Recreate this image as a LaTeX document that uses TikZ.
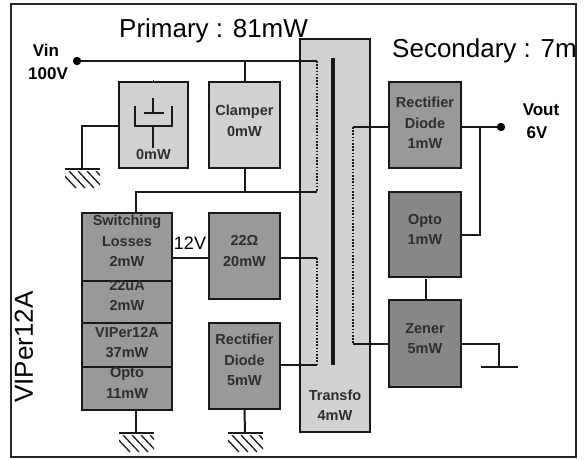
\documentclass[tikz,border=0pt]{standalone}
\usepackage{fontspec}
\setmainfont{Liberation Sans}
\begin{document}
\begin{tikzpicture}[x=1pt,y=-1pt,
  wire/.style={line width=2pt,black!90},
  boxbase/.style={draw=black!90,line width=2.2pt,inner sep=0pt},
  lightbox/.style={boxbase,fill=black!18},
  hatchbox/.style={boxbase,fill=black!40},
  darkbox/.style={boxbase,fill=black!47},
  btxt/.style={font=\bfseries\fontsize{14.5}{20.5}\selectfont,text=black!82,align=center,inner sep=0pt},
  lbl/.style={font=\bfseries\fontsize{17}{24}\selectfont,align=center,inner sep=0pt},
  big/.style={font=\fontsize{26}{30}\selectfont,inner sep=0pt},
  coil/.style={line width=2.8pt,dash pattern=on 1.6pt off 1.6pt,black!90},
  gndline/.style={line width=2pt,black!90},
  hatchl/.style={line width=1.3pt,black!90}
]
\useasboundingbox (0,0) rectangle (584,460);
\fill[white] (0,0) rectangle (584,460);
% outer frame
\draw[line width=1.5pt,black!85] (11,4) rectangle (576,457);

% titles
\node[big,anchor=base west] (prim) at (119,38) {Primary : 81mW};
\begin{scope}
\clip (0,0) rectangle (575,460);
\node[big,anchor=base west] (sec) at (392,58) {Secondary : 7mW};
\end{scope}
\node[big,rotate=90] (vip) at (24,347) {VIPer12A};

% transformer box
\node[lightbox,minimum width=70pt,minimum height=393pt] (tr) at (335,235.5) {};
\node[btxt] (trt) at (335,405) {Transfo\\4mW};

% left boxes
\node[lightbox,minimum width=69pt,minimum height=86pt] (cap) at (153.5,125) {};
\node[btxt] (capt) at (153.5,155) {0mW};
\node[lightbox,minimum width=71pt,minimum height=86pt] (clp) at (244.5,125) {};
\node[btxt] at ([yshift=4pt]clp.center) {Clamper\\0mW};

\node[hatchbox,minimum width=90pt,minimum height=68pt] (s1) at (127,247) {};
\node[hatchbox,minimum width=90pt,minimum height=42pt] (s2) at (127,302) {};
\node[hatchbox,minimum width=90pt,minimum height=44pt] (s3) at (127,345) {};
\node[hatchbox,minimum width=90pt,minimum height=43pt] (s4) at (127,388.5) {};
\node[btxt] at ([yshift=6pt]s1.center) {Switching\\Losses\\2mW};
\node[btxt] at ([yshift=6.5pt]s2.center) {22uA\\2mW};
\node[btxt] at ([yshift=2.5pt]s3.center) {VIPer12A\\37mW};
\node[btxt] at ([yshift=5.5pt]s4.center) {Opto\\11mW};

\node[hatchbox,minimum width=71pt,minimum height=86pt] (r22) at (244.5,256) {};
\node[btxt] at ([yshift=5pt]r22.center) {22Ω\\20mW};
\node[hatchbox,minimum width=71pt,minimum height=86pt] (rd5) at (244.5,366) {};
\node[btxt] at ([yshift=6pt]rd5.center) {Rectifier\\Diode\\5mW};

% right boxes
\node[hatchbox,minimum width=72pt,minimum height=86pt] (rd1) at (425,125) {};
\node[btxt] at ([yshift=2pt]rd1.center) {Rectifier\\Diode\\1mW};
\node[darkbox,minimum width=72pt,minimum height=85pt] (opto) at (425,234.5) {};
\node[btxt] at ([yshift=5pt]opto.center) {Opto\\1mW};
\node[darkbox,minimum width=72pt,minimum height=87pt] (zen) at (425,343.5) {};
\node[btxt] at ([yshift=5pt]zen.center) {Zener\\5mW};

% labels
\node[lbl] (vin) at (46,50) {Vin};
\node[lbl] (v100) at (48,74) {100V};
\node[lbl] (vout) at (541,110) {Vout};
\node[lbl] (v6) at (537,133) {6V};
\node[font=\fontsize{18}{20}\selectfont,inner sep=0pt] (v12) at (190,243) {12V};

% coordinates
\coordinate (vdot) at (77,61);
\coordinate (p1top) at (317,61);
\coordinate (p1bot) at (317,192);
\coordinate (p2top) at (317,258);
\coordinate (p2bot) at (317,365);
\coordinate (sectop) at (353,127);
\coordinate (secbot) at (353,344);
\coordinate (odot) at (501,127);
\coordinate (jo) at (480,127);
\coordinate (jl) at (136,192);
\coordinate (gl) at (82,169);
\coordinate (g1) at (136,433);
\coordinate (g2) at (245,433);
\coordinate (zj) at (499,344);
\coordinate (zg) at (499,367);

% wires
\draw[wire] (vdot) -- (p1top);
\draw[wire] (cap.north -| 153,61) -- (cap.north);
\draw[wire] (clp.north |- vdot) -- (clp.north);
\draw[wire] (clp.south) -- (clp.south |- p1bot);
\draw[wire] (p1bot) -- (jl) -- (jl |- s1.north);
\draw[wire] (cap.west |- 0,126) -- (gl |- 0,126) -- (gl);
\draw[wire] (s1.east |- 0,258) -- (r22.west |- 0,258);
\draw[wire] (r22.east |- p2top) -- (p2top);
\draw[wire] (rd5.east |- p2bot) -- (p2bot);
\draw[wire] (jl |- s4.south) -- (g1);
\draw[wire] (rd5.south) -- (g2);
\draw[wire] (sectop) -- (rd1.west |- sectop);
\draw[wire] (secbot) -- (zen.west |- secbot);
\draw[wire] (rd1.east |- odot) -- (odot);
\draw[wire] (jo) -- (jo |- 0,235) -- (opto.east |- 0,235);
\draw[wire] (426,279) -- (zen.north -| 426,0);
\draw[wire] (zen.east |- zj) -- (zj) -- (zg);
\draw[gndline] (481,367) -- (518,367);

% dots
\fill[black] (vdot) circle (4.2pt);
\fill[black] (odot) circle (4.2pt);

% transformer windings
\draw[coil] (p1top) -- (p1bot);
\draw[coil] (p2top) -- (p2bot);
\draw[coil] (sectop) -- (secbot);
\draw[line width=4pt,black!90] (333,58) -- (333,365);

% capacitor symbol
\draw[line width=2pt,black!90] (153,98) -- (153,113);
\draw[line width=2.4pt,black!90] (144,113) -- (164,113);
\draw[line width=2pt,black!90] (135,106) -- (135,126) -- (172,126) -- (172,106);
\draw[line width=2pt,black!90] (153,126) -- (153,148);

% grounds
\foreach \gx/\gy in {82/169,136/433,245/433}{
  \draw[gndline] (\gx-17,\gy) -- (\gx+18,\gy);
  \begin{scope}
    \clip (\gx-17,\gy+2) rectangle (\gx+18,\gy+19);
    \foreach \i in {0,1,2,3,4}{
      \draw[hatchl] (\gx-22+9*\i,\gy+2) -- (\gx-22+9*\i+16,\gy+19);
    }
  \end{scope}
}
\end{tikzpicture}
\end{document}
